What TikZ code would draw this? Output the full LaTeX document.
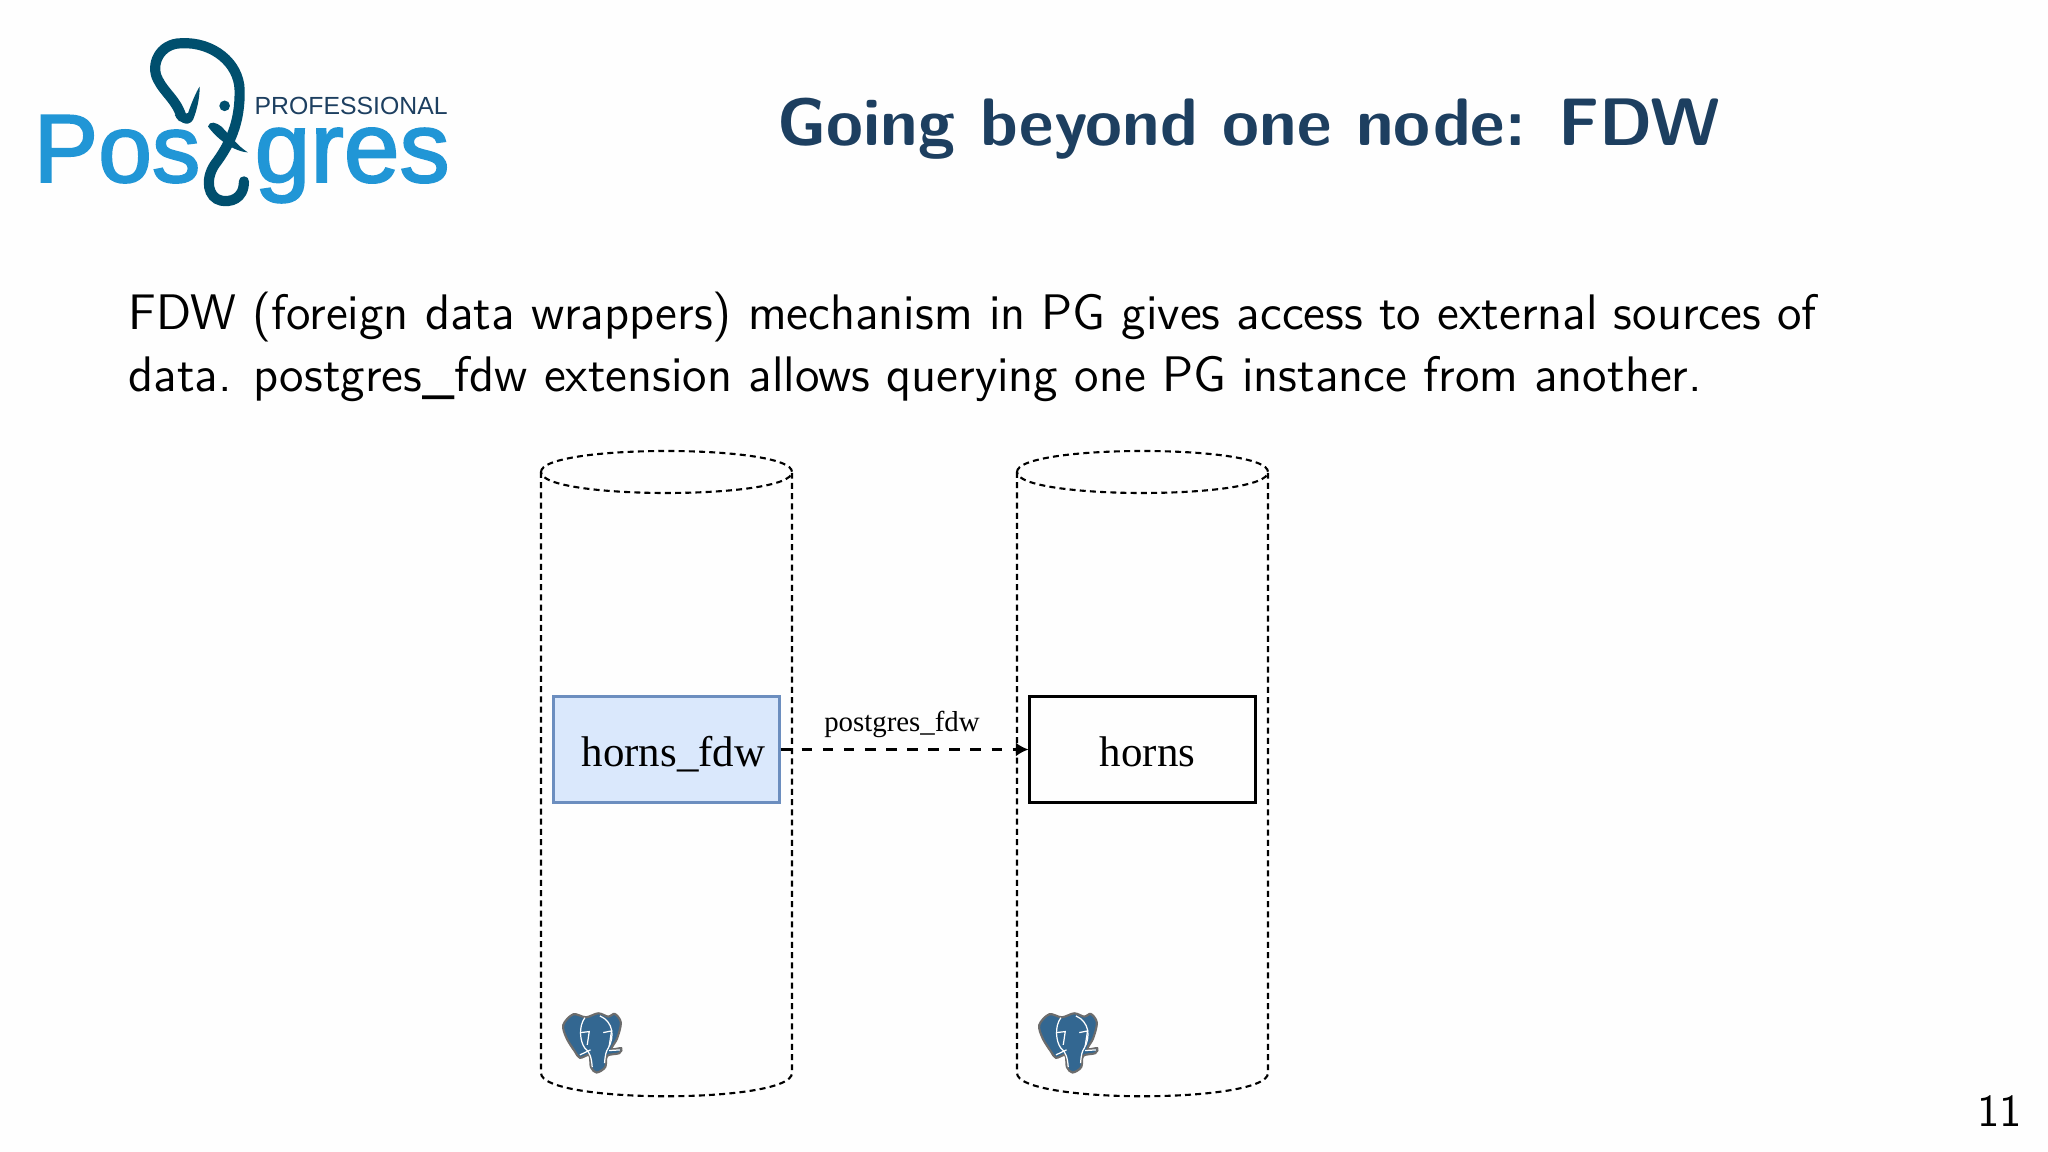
\documentclass[tikz,border=0pt]{standalone}
\usepackage{fontspec}
\usepackage{tikz}
\usetikzlibrary{arrows.meta}
\newfontfamily\labelfont{Liberation Serif}
\newfontfamily\logofont{Liberation Sans}
\newfontfamily\logoheavy[FakeBold=2]{Liberation Sans}
\definecolor{logoBlue}{HTML}{2196D6}
\definecolor{logoDark}{HTML}{004F6E}
\definecolor{titleBlue}{HTML}{1D3F60}
\definecolor{pgBlue}{HTML}{336791}
\definecolor{fdwFill}{HTML}{DAE8FC}
\definecolor{fdwDraw}{HTML}{6C8EBF}
\tikzset{
  bodyLine/.style={%
    anchor=base west, inner sep=0pt, font=\sffamily\fontsize{14.2}{18}\selectfont,
  },
  tableNode/.style={%
    rectangle, minimum width=2.25cm, minimum height=1.06cm, inner sep=0pt,
    text height=9.6pt, text depth=0pt,
    draw, line width=0.85pt, font=\labelfont\fontsize{12.2}{15}\selectfont,
  },
  dbOutline/.style={%
    draw=black, line width=0.6pt, dash pattern=on 1.7pt off 1.2pt,
  },
  logoLetters/.style={%
    anchor=base west, inner sep=0pt, text=logoBlue,
    font=\logoheavy\fontsize{27.5}{30}\selectfont,
  }
}
\newcommand{\pgElephant}[2]{%
  \begin{scope}[shift={(#1,#2)},x=0.00333cm,y=-0.00333cm]
    \draw[fill=pgBlue,draw=gray!85!black,line width=0.6pt] plot[smooth cycle,tension=0.55] coordinates
      {(100,135) (130,103) (168,112) (205,100) (235,110) (255,102) (273,128) (262,175)
       (245,207) (274,205) (268,220) (232,228) (226,262) (200,278) (183,262) (178,226)
       (150,234) (135,215) (110,175)};
    \draw[white,line width=0.35pt] (165,113) .. controls (145,140) and (150,185) .. (165,205)
      .. controls (180,215) and (185,235) .. (187,262);
    \draw[white,line width=0.35pt] (210,108) .. controls (250,125) and (255,170) .. (235,205)
      .. controls (228,215) and (226,225) .. (224,250);
    \draw[white,line width=0.35pt] (152,158) -- (178,155) -- (172,195);
    \draw[white,line width=0.35pt] (220,158) -- (245,153) -- (238,198);
    \draw[white,line width=0.35pt] (150,225) -- (182,210);
    \draw[white,line width=0.35pt] (238,212) -- (270,210);
  \end{scope}
}

\begin{document}
\begin{tikzpicture}[x=0.01cm,y=-0.01cm]
        \useasboundingbox[fill=white!99.5!black] (0,0) rectangle (2048,1152);
        % logo
        \node[logoLetters] (logoPos) at (33,182) {Pos};
        \node[logoLetters,font=\logoheavy\fontsize{28.5}{30}\selectfont] (logoGres) at (254,182) {gres};
        \node[anchor=base west,inner sep=0pt,text=titleBlue,font=\logofont\fontsize{7.05}{9}\selectfont]
          (logoPro) at (254,115) {PROFESSIONAL};
        \begin{scope}[x=0.00333cm,y=-0.00333cm]
          \draw[logoDark,line width=2.9pt,line cap=round] (733,545) .. controls (733,600) and (690,608) .. (665,603)
            .. controls (625,595) and (615,540) .. (645,495)
            .. controls (690,435) and (722,370) .. (720,270)
            .. controls (718,190) and (640,125) .. (545,130)
            .. controls (480,130) and (450,195) .. (475,240)
            .. controls (495,280) and (530,300) .. (545,350);
          \fill[logoDark] (525,345) .. controls (535,365) and (565,385) .. (580,360)
            .. controls (590,335) and (600,300) .. (600,260)
            .. controls (590,275) and (575,310) .. (565,340) -- cycle;
          \fill[logoDark] (625,380) .. controls (630,362) and (650,368) .. (665,380)
            .. controls (690,405) and (715,440) .. (745,458)
            .. controls (700,455) and (650,415) .. cycle;
          \fill[logoDark] (675,318) circle (16);
        \end{scope}
        % slide text
        \node[anchor=base,inner sep=0pt,text=titleBlue,font=\sffamily\bfseries\fontsize{19.1}{23}\selectfont]
          (slideTitle) at (1249,146) {Going beyond one node: FDW};
        \node[bodyLine] (lineOne) at (128,329.7) {FDW (foreign data wrappers) mechanism in PG gives access to external sources of};
        \node[bodyLine] (lineTwo) at (128,391.2) {data. postgres\_fdw extension allows querying one PG instance from another.};
        \node[anchor=base east,inner sep=0pt,font=\sffamily\fontsize{13}{15}\selectfont] (pageNum) at (2023,1126) {11};
        % databases
        \foreach \x in {541,1017}
        {
          \draw[dbOutline] (\x,472) .. controls (\x,444) and (\x+251,444) .. (\x+251,472)
            .. controls (\x+251,500) and (\x,500) .. cycle;
          \draw[dbOutline] (\x,472) -- (\x,1073) .. controls (\x,1104) and (\x+251,1104) .. (\x+251,1073) -- (\x+251,472);
          \pgElephant{\x-11}{980}
        }
        \node[tableNode,draw=fdwDraw,fill=fdwFill] (hornsFdw) at (666.5,749.5) {\hspace{0.14cm}horns\_fdw};
        \node[tableNode] (horns) at (1142.5,749.5) {\hspace{0.1cm}horns};
        \draw[dashed,line width=0.7pt,-{Latex[length=3.6pt,width=4pt]}] (hornsFdw) -- (horns)
          node[midway,above=-0.01cm,xshift=-0.025cm,font=\labelfont\fontsize{8.2}{10}\selectfont] (fdwLabel) {postgres\_fdw};
      \end{tikzpicture}
\end{document}
